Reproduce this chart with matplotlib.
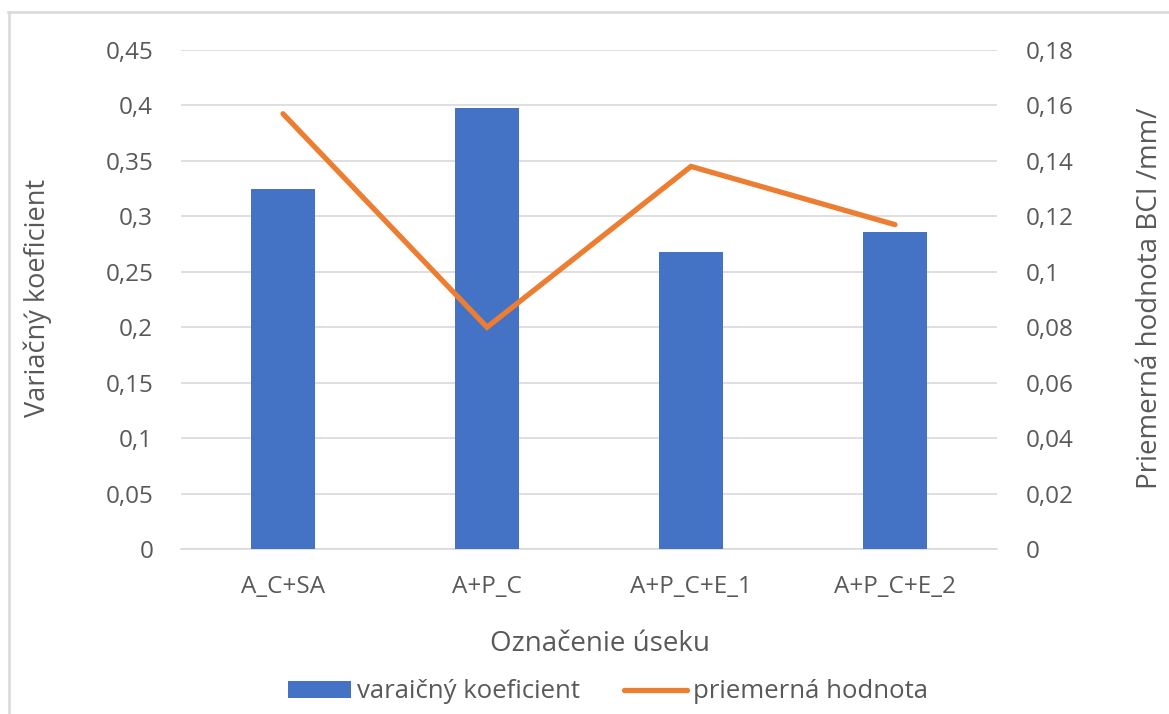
import matplotlib
matplotlib.use("Agg")
import matplotlib.pyplot as plt
from matplotlib.lines import Line2D
from matplotlib.ticker import FixedLocator, FuncFormatter

categories = ["A_C+SA", "A+P_C", "A+P_C+E_1", "A+P_C+E_2"]
var_coef = [0.325, 0.398, 0.268, 0.286]
avg_value = [0.157, 0.080, 0.138, 0.117]
left_ticks = [0, 0.05, 0.1, 0.15, 0.2, 0.25, 0.3, 0.35, 0.4, 0.45]
right_ticks = [0, 0.02, 0.04, 0.06, 0.08, 0.1, 0.12, 0.14, 0.16, 0.18]

plt.rcParams['font.family'] = ['Open Sans', 'DejaVu Sans']
txt = '#595959'
fs = 17.5

fig = plt.figure(figsize=(11.69, 7.14), dpi=100)
W, H = 1169, 714
ax = fig.add_axes([181 / W, 1 - 549 / H, (997 - 181) / W, (549 - 50) / H])
ax2 = ax.twinx()

x = list(range(len(categories)))
ax.bar(x, var_coef, width=0.31, color='#4472C4', zorder=3, label='varaičný koeficient')
ax2.plot(x, avg_value, color='#ED7D31', lw=3.8, solid_capstyle='round', solid_joinstyle='miter',
         zorder=4, label='priemerná hodnota')

ax.set_xlim(-0.5, 3.5)
ax.set_ylim(0, 0.45)
ax2.set_ylim(0, 0.18)
ax.yaxis.set_major_locator(FixedLocator(left_ticks))
ax2.yaxis.set_major_locator(FixedLocator(right_ticks))

def fmt(v, pos):
    s = ('%.2f' % v).rstrip('0').rstrip('.')
    return s.replace('.', ',')

ax.yaxis.set_major_formatter(FuncFormatter(fmt))
ax2.yaxis.set_major_formatter(FuncFormatter(fmt))
ax.set_xticks(x)
ax.set_xticklabels(categories)

ax.grid(axis='y', color='#d9d9d9', lw=1.2, zorder=0)
ax.set_axisbelow(True)
for a in (ax, ax2):
    for s in a.spines.values():
        s.set_visible(False)
    a.tick_params(length=0, labelsize=fs, colors=txt)
ax.spines['bottom'].set_visible(True)
ax.spines['bottom'].set_color('#d9d9d9')
ax.spines['bottom'].set_linewidth(1.2)
ax.tick_params(axis='y', pad=20)
ax2.tick_params(axis='y', pad=21)
ax.tick_params(axis='x', pad=19)

fig.text(38 / W, 1 - 298 / H, 'Variačný koeficient', rotation=90, ha='center', va='center',
         fontsize=19.5, color=txt)
fig.text(1150 / W, 1 - 298 / H, 'Priemerná hodnota BCI /mm/', rotation=90, ha='center', va='center',
         fontsize=20, color=txt)
fig.text(600 / W, 1 - 644 / H, 'Označenie úseku', ha='center', va='center', fontsize=20, color=txt)

h1, l1 = ax.get_legend_handles_labels()
h2, l2 = ax2.get_legend_handles_labels()
fig.legend(h1 + h2, l1 + l2, loc='center', bbox_to_anchor=(608 / W, 1 - 692 / H), ncol=2,
           frameon=False, fontsize=18.5, labelcolor=txt, handlelength=2.45, handletextpad=0.2,
           columnspacing=1.75, handleheight=0.6, borderpad=0)

fig.add_artist(Line2D([8 / W, 1.0], [1 - 12 / H, 1 - 12 / H], transform=fig.transFigure,
                      color='#d9d9d9', lw=1.8))
fig.add_artist(Line2D([9 / W, 9 / W], [0.0, 1 - 12 / H], transform=fig.transFigure,
                      color='#d9d9d9', lw=1.8))

fig.savefig('out.png', dpi=100)
